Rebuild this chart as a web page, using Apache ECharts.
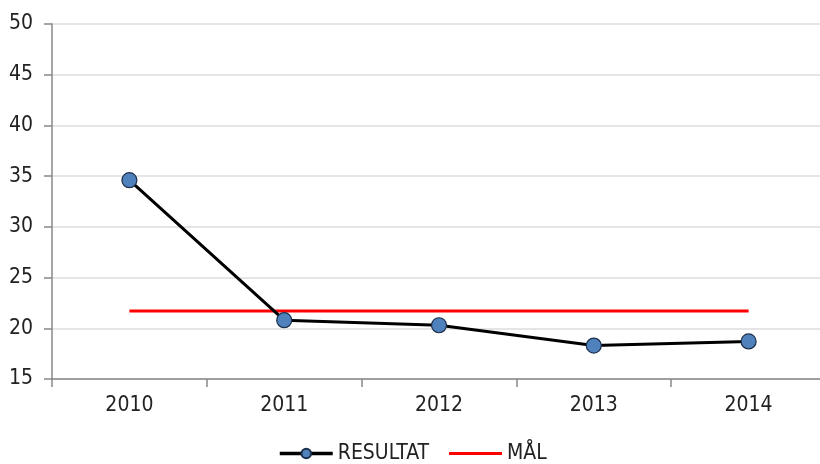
<!DOCTYPE html>
<html><head><meta charset="utf-8">
<script src="https://cdn.jsdelivr.net/npm/echarts@6/dist/echarts.min.js"></script>
<style>html,body{margin:0;padding:0;background:#fff;overflow:hidden}#c{width:830px;height:464px}</style>
</head><body><div id="c"></div>
<script>
const categories = ['2010','2011','2012','2013','2014'];
const resultat = [34.6, 20.8, 20.3, 18.3, 18.7];
const mal = [21.7, 21.7, 21.7, 21.7, 21.7];
const yTicks = [15, 20, 25, 30, 35, 40, 45, 50];

const chart = echarts.init(document.getElementById('c'));
const font = '"DejaVu Sans Condensed", "DejaVu Sans", sans-serif';
chart.setOption({
  animation: false,
  textStyle: {fontFamily: font},
  grid: {left: 52, right: 4, top: 24, bottom: 85},
  legend: {
    bottom: -5, left: 273, itemGap: 20, itemWidth: 53, itemHeight: 12,
    textStyle: {fontFamily: font, fontSize: 21, color: '#222', padding: [0, 0, 0, 0]},
    data: [
      {name: 'RESULTAT', lineStyle: {width: 3.5, color: '#000'}},
      {name: 'MÅL', icon: 'path://M0,0 L50,0 L50,3 L0,3 Z', itemStyle: {color: '#ff0000'}}
    ]
  },
  xAxis: {
    type: 'category', data: categories, boundaryGap: true,
    axisLine: {lineStyle: {color: '#888', width: 1.5}},
    axisTick: {show: true, length: 8, lineStyle: {color: '#888', width: 1.5}},
    axisLabel: {fontSize: 21, color: '#222', margin: 16, fontFamily: font}
  },
  yAxis: {
    type: 'value', min: yTicks[0], max: yTicks[yTicks.length - 1], interval: 5,
    axisLine: {show: true, lineStyle: {color: '#888', width: 1.5}},
    axisTick: {show: true, length: 8, lineStyle: {color: '#888', width: 1.5}},
    axisLabel: {fontSize: 21, color: '#222', margin: 19, fontFamily: font},
    splitLine: {lineStyle: {color: '#dcdcdc', width: 1.5}}
  },
  series: [
    {
      name: 'RESULTAT', type: 'line', data: resultat,
      symbol: 'circle', symbolSize: 15,
      lineStyle: {color: '#000', width: 3},
      itemStyle: {color: '#4F81BD', borderColor: '#1c2f4a', borderWidth: 1.2},
      z: 3
    },
    {
      name: 'MÅL', type: 'line', data: mal, symbol: 'none',
      lineStyle: {color: '#ff0000', width: 3},
      itemStyle: {color: '#ff0000'},
      z: 2
    }
  ]
});
</script></body></html>
